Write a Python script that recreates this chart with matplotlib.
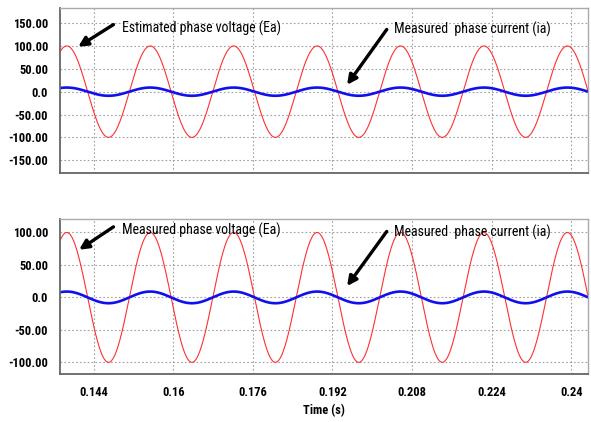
import numpy as np
import matplotlib.pyplot as plt

plt.rcParams['font.family'] = ['Roboto Condensed', 'DejaVu Sans']
plt.rcParams['font.stretch'] = 'condensed'

# waveform parameters
t_start, t_stop = 0.1372, 0.2434
freq = 59.6            # Hz
t_peak = 0.13857       # time of first voltage peak (s)
va_amp = 100.0         # phase voltage amplitude
ia_amp = 9.0           # phase current amplitude

xticks = [0.144, 0.16, 0.176, 0.192, 0.208, 0.224, 0.24]
xtick_labels = ['0.144', '0.16', '0.176', '0.192', '0.208', '0.224', '0.24']
top_yticks = [-150, -100, -50, 0, 50, 100, 150]
top_ylabels = ['-150.00', '-100.00', '-50.00', '0.0', '50.00', '100.00', '150.00']
bot_yticks = [-100, -50, 0, 50, 100]
bot_ylabels = ['-100.00', '-50.00', '0.0', '50.00', '100.00']

t = np.linspace(t_start, t_stop, 3000)
va = va_amp * np.cos(2 * np.pi * freq * (t - t_peak))
ia = ia_amp * np.cos(2 * np.pi * freq * (t - t_peak))

fig = plt.figure(figsize=(5.91, 4.22), dpi=100)
ax1 = fig.add_axes([0.1015, 0.590, 0.8935, 0.391])
ax2 = fig.add_axes([0.1015, 0.1137, 0.8935, 0.367])


def style(ax, yticks, ylabels, ylim, show_x):
    ax.plot(t, va, color='#ff3030', lw=0.8)
    ax.plot(t, ia, color='#1010ee', lw=1.9)
    ax.set_xlim(t_start, t_stop)
    ax.set_ylim(*ylim)
    ax.set_yticks(yticks)
    ax.set_yticklabels(ylabels, fontsize=9, fontweight='bold')
    ax.set_xticks(xticks)
    if show_x:
        ax.set_xticklabels(xtick_labels, fontsize=9, fontweight='bold')
    else:
        ax.set_xticklabels([])
    ax.tick_params(length=0, pad=8.5)
    ax.grid(True, ls=(0, (1.5, 2)), color='#a0a0a0', lw=0.8)
    for side in ['left', 'bottom']:
        ax.spines[side].set_color('#666666')
        ax.spines[side].set_linewidth(1.3)
    for side in ['top', 'right']:
        ax.spines[side].set_color('#aaaaaa')
        ax.spines[side].set_linewidth(1.0)


style(ax1, top_yticks, top_ylabels, (-178, 183), False)
style(ax2, bot_yticks, bot_ylabels, (-118, 120.5), True)
ax2.set_xlabel('Time (s)', fontsize=9, fontweight='bold', labelpad=4)

arrow = dict(arrowstyle='-|>', lw=2.4, color='black', mutation_scale=14)
txt = dict(fontsize=10, va='center', ha='left')

ax1.annotate('', xy=(0.14039, 95), xytext=(0.14842, 150), arrowprops=arrow)
ax1.text(0.14962, 139, 'Estimated phase voltage (Ea)', **txt)
ax1.annotate('', xy=(0.19461, 10), xytext=(0.20324, 141), arrowprops=arrow)
ax1.text(0.20445, 137, 'Measured  phase current (ia)', **txt)

ax2.annotate('', xy=(0.14059, 71), xytext=(0.14842, 111), arrowprops=arrow)
ax2.text(0.14962, 103.5, 'Measured phase voltage (Ea)', **txt)
ax2.annotate('', xy=(0.19461, 14), xytext=(0.20324, 105), arrowprops=arrow)
ax2.text(0.20445, 100.5, 'Measured  phase current (ia)', **txt)

fig.savefig('out.png', dpi=100)
